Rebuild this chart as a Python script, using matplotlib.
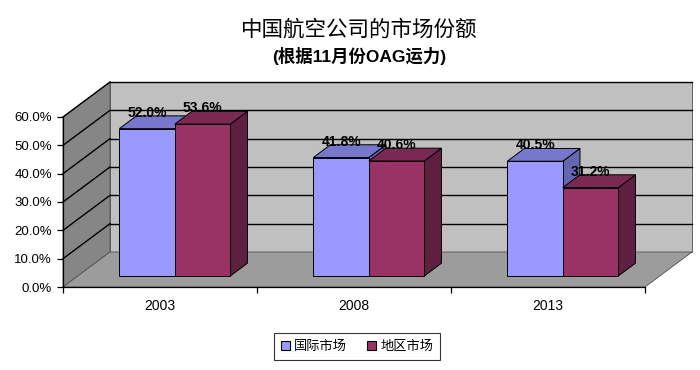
import numpy as np
import matplotlib
matplotlib.use("Agg")
import matplotlib.pyplot as plt
from matplotlib.patches import Polygon, Patch
from matplotlib.transforms import IdentityTransform
from matplotlib.ticker import FuncFormatter, FixedLocator, NullFormatter

plt.rcParams['font.family'] = ['Liberation Sans', 'Noto Sans CJK SC', 'DejaVu Sans']

# ---- data ----
years = ["2003", "2008", "2013"]
series_names = ["国际市场", "地区市场"]
intl = [0.520, 0.418, 0.405]
regional = [0.536, 0.406, 0.312]
value_labels_intl = ["52.0%", "41.8%", "40.5%"]
value_labels_reg = ["53.6%", "40.6%", "31.2%"]
title = "中国航空公司的市场份额"
subtitle = "(根据11月份OAG运力)"
yticks = [0.0, 0.1, 0.2, 0.3, 0.4, 0.5, 0.6]

# ---- style ----
face_cols = ["#9999FF", "#993366"]
top_cols = ["#7777CC", "#7A2952"]
side_cols = ["#6666B0", "#5E1F40"]
back_wall = "#C0C0C0"
left_wall = "#868686"
floor_col = "#9C9C9C"

W, H = 700, 370
fig = plt.figure(figsize=(W / 100, H / 100), dpi=100)
fig.patch.set_facecolor("white")

x_left, x_right = 63, 645
y0_img, y60_img = 287, 117
ax = fig.add_axes([x_left / W, (H - y0_img) / H, (x_right - x_left) / W, (y0_img - y60_img) / H])
ax.set_xlim(-0.5, len(years) - 0.5)
ax.set_ylim(0, 0.6)
ax.patch.set_visible(False)
for s in ["top", "right"]:
    ax.spines[s].set_visible(False)
for s in ["left", "bottom"]:
    ax.spines[s].set_color("black")
    ax.spines[s].set_linewidth(0.9)
    ax.spines[s].set_zorder(6)

# depth vector of the whole chart (pixels, display coords)
DX, DY = 47.0, 35.0
D0, D1 = 0.315, 0.68  # bar depth range (fraction)


def P(x, v, d):
    p = ax.transData.transform((x, v))
    return (p[0] + d * DX, p[1] + d * DY)


def poly(pts, fc, ec="black", lw=0.7, z=1):
    ax.add_patch(Polygon(pts, closed=True, facecolor=fc, edgecolor=ec, linewidth=lw,
                         transform=IdentityTransform(), clip_on=False, zorder=z))


def line(p, q, color="black", lw=0.9, z=1.5):
    ax.add_line(plt.Line2D([p[0], q[0]], [p[1], q[1]], color=color, linewidth=lw,
                           transform=IdentityTransform(), clip_on=False, zorder=z))


xa, xb = -0.5, len(years) - 0.5
vmax = yticks[-1]
# walls and floor
poly([P(xa, 0, 1), P(xb, 0, 1), P(xb, vmax, 1), P(xa, vmax, 1)], back_wall, ec="#505050", lw=0.6, z=0.5)
poly([P(xa, 0, 0), P(xa, 0, 1), P(xa, vmax, 1), P(xa, vmax, 0)], left_wall, ec="#505050", lw=0.6, z=0.6)
poly([P(xa, 0, 0), P(xb, 0, 0), P(xb, 0, 1), P(xa, 0, 1)], floor_col, ec="#505050", lw=0.6, z=0.7)
# gridlines
for v in yticks[1:]:
    line(P(xa, v, 0), P(xa, v, 1), lw=1.0)
    line(P(xa, v, 1), P(xb, v, 1), lw=1.0)

# bars
bw = 0.286
series = [intl, regional]
labels = [value_labels_intl, value_labels_reg]
for i in range(len(years)):
    for k, vals in enumerate(series):
        v = vals[i]
        x0 = i - bw + k * bw
        x1 = x0 + bw
        z = 3 + i * 0.1 + k * 0.02
        # side
        poly([P(x1, 0, D0), P(x1, 0, D1), P(x1, v, D1), P(x1, v, D0)], side_cols[k], z=z)
        # top
        poly([P(x0, v, D0), P(x1, v, D0), P(x1, v, D1), P(x0, v, D1)], top_cols[k], z=z + 0.005)
        # front
        poly([P(x0, 0, D0), P(x1, 0, D0), P(x1, v, D0), P(x0, v, D0)], face_cols[k], z=z + 0.01)
        cx, cy = P((x0 + x1) / 2, v, D0)
        ax.text(cx, cy + 16, labels[k][i], transform=IdentityTransform(), ha="center", va="center",
                fontsize=10, fontweight="bold", color="black", zorder=10)

# axes ticks
ax.yaxis.set_major_locator(FixedLocator(yticks))
ax.yaxis.set_major_formatter(FuncFormatter(lambda v, p: f"{v * 100:.1f}%"))
ax.tick_params(axis="y", length=4, width=0.9, pad=4, labelsize=9.5, colors="black")
ax.xaxis.set_major_locator(FixedLocator(np.arange(len(years) + 1) - 0.5))
ax.xaxis.set_major_formatter(NullFormatter())
ax.set_xticks(np.arange(len(years)), years, minor=True)
ax.tick_params(axis="x", which="major", length=4, width=0.9)
ax.tick_params(axis="x", which="minor", length=0, pad=9, labelsize=10)

# titles
fig.text(359 / W, 1 - 30 / H, title, ha="center", va="center", fontsize=15.5, fontweight="medium",
         family=["Noto Sans CJK SC", "DejaVu Sans"])
fig.text(359 / W, 1 - 56 / H, subtitle, ha="center", va="center", fontsize=12.5, fontweight="bold",
         family=["Liberation Sans", "Noto Sans CJK SC", "DejaVu Sans"])

# legend
handles = [Patch(facecolor=face_cols[k], edgecolor="black", linewidth=0.8) for k in range(2)]
leg = fig.legend(handles, series_names, loc="center", bbox_to_anchor=(357 / W, 1 - 346.5 / H),
                 ncol=2, frameon=True, fancybox=False, edgecolor="black",
                 handlelength=0.7, handleheight=0.7, handletextpad=0.3, columnspacing=1.5,
                 borderpad=0.5, prop={"family": ["Noto Sans CJK SC", "DejaVu Sans"], "size": 9.5})
leg.get_frame().set_linewidth(0.8)

fig.savefig("out.png", dpi=100, facecolor="white")
